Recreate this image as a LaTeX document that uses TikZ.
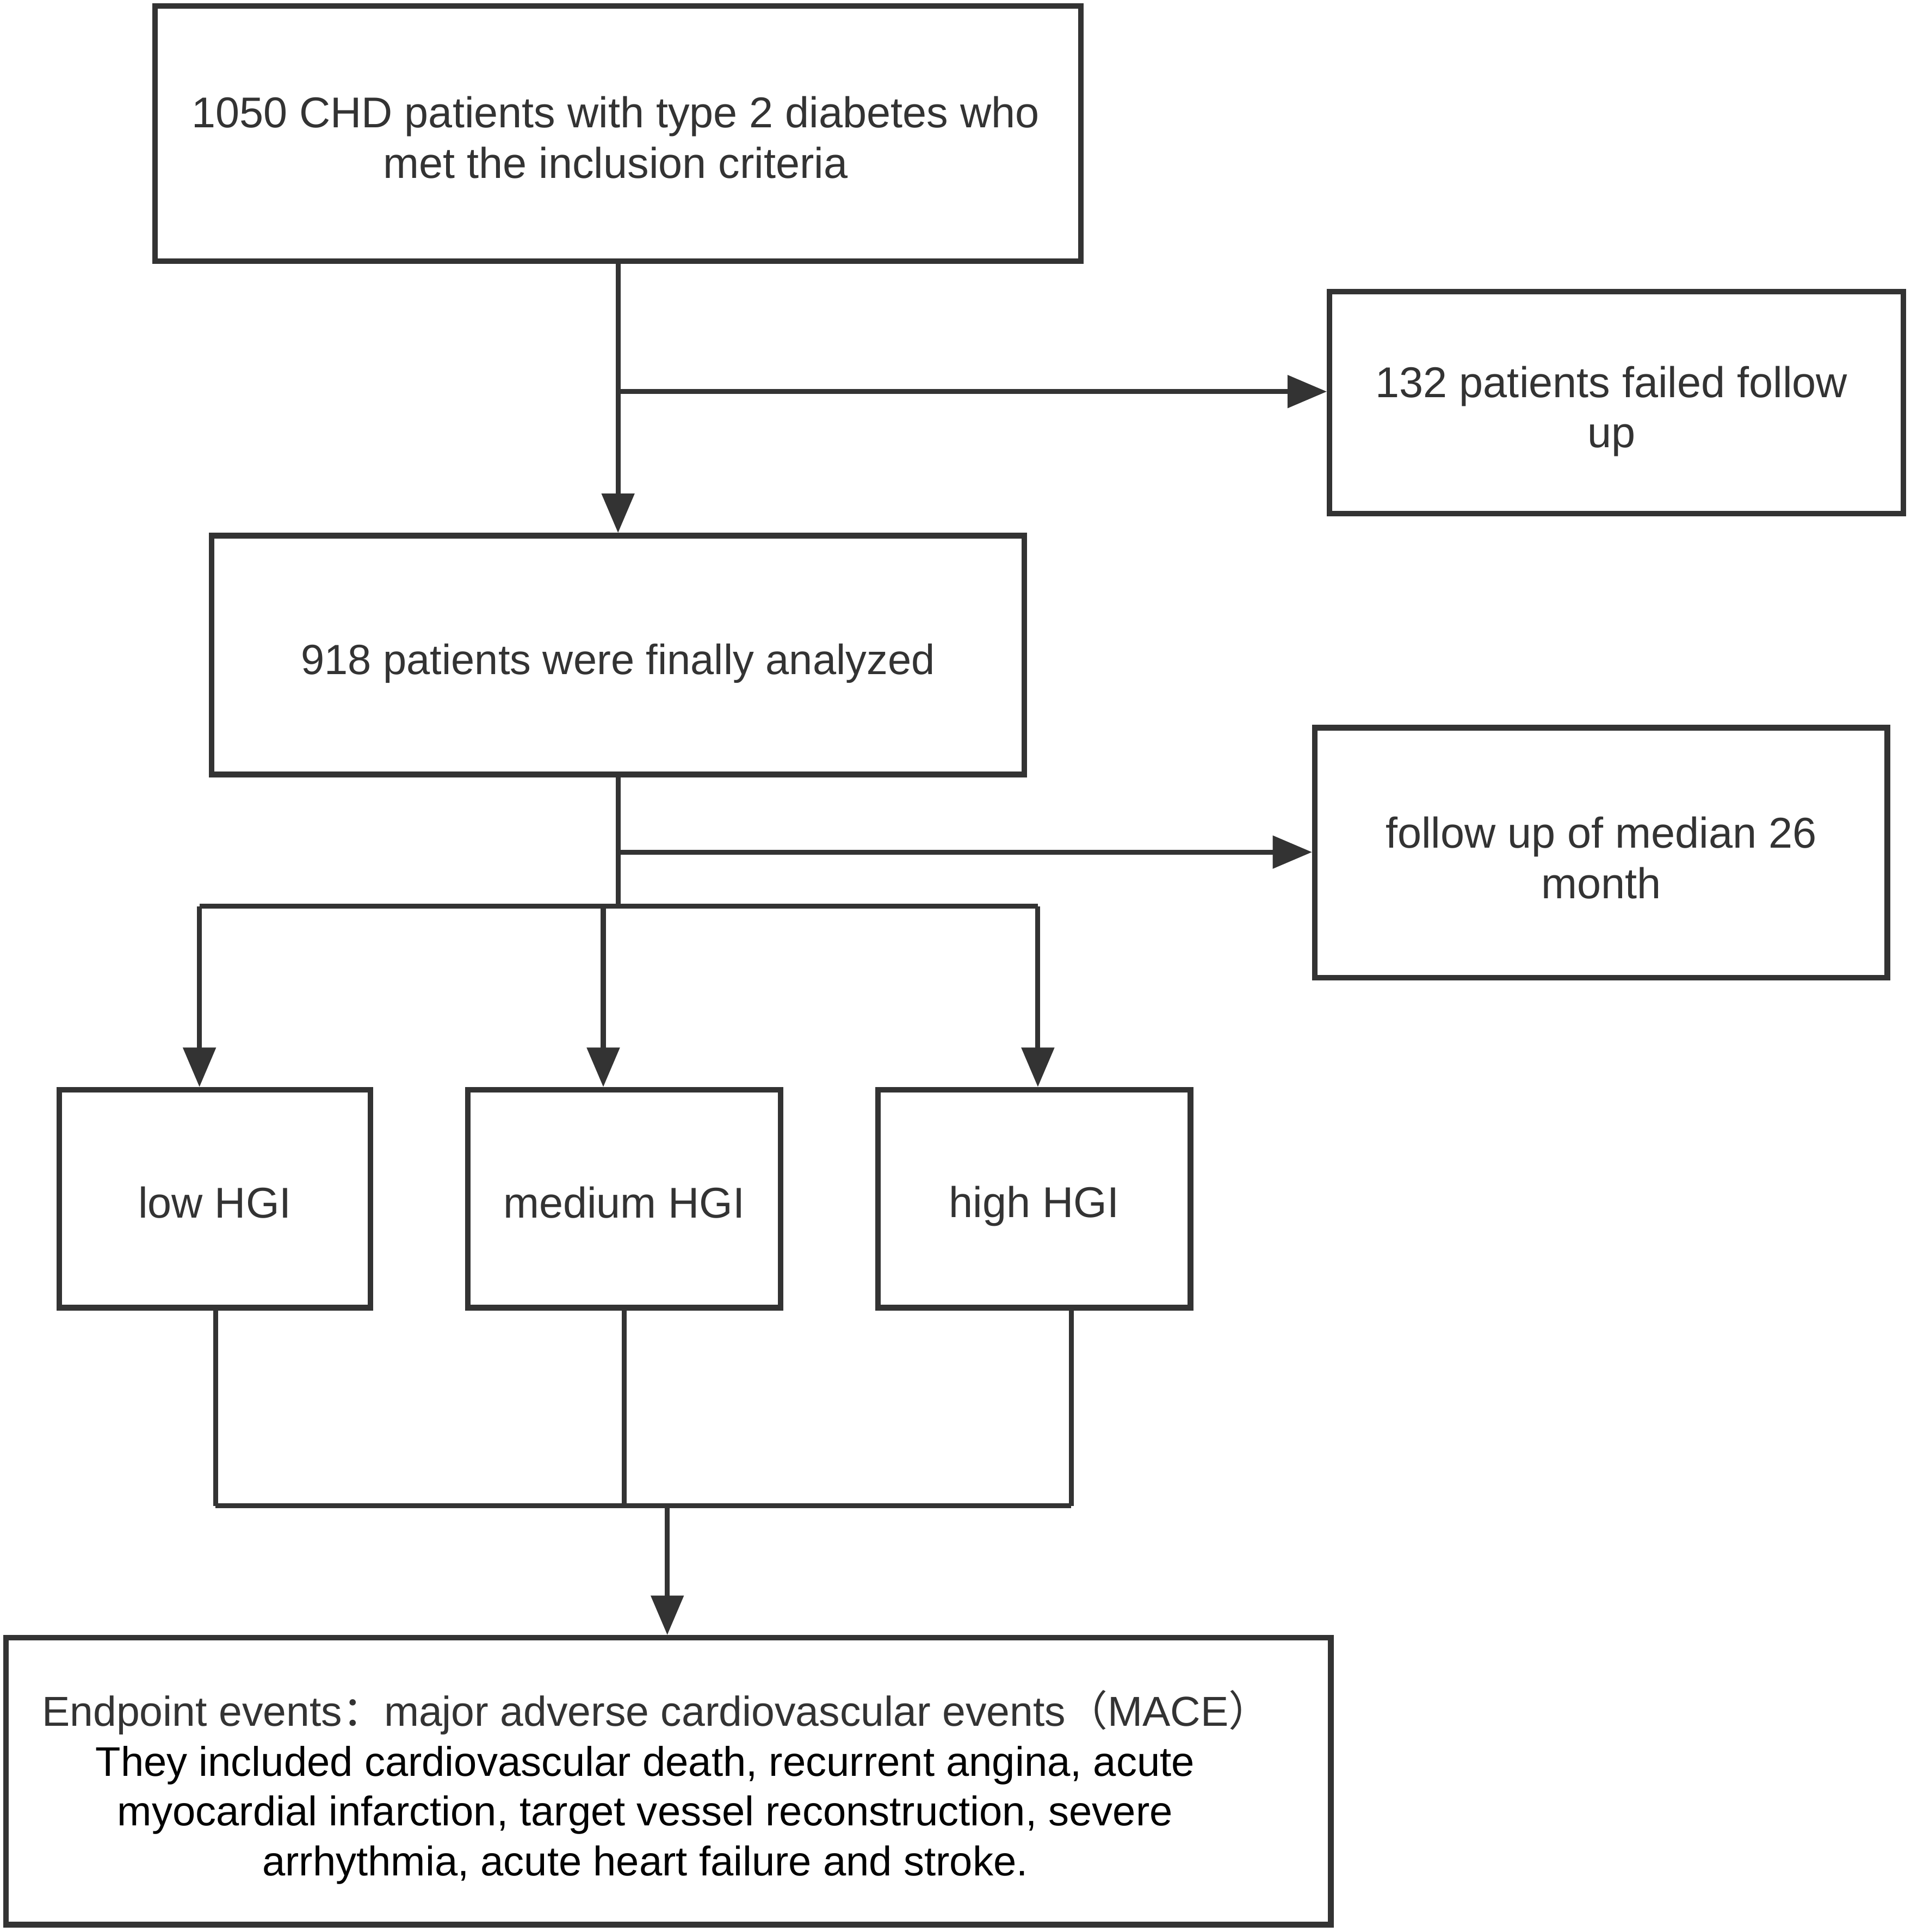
\documentclass[tikz,border=0pt]{standalone}
\usepackage{fontspec}
\setmainfont{Liberation Sans}
\newfontfamily\cjk{Noto Sans CJK SC}
\usetikzlibrary{arrows.meta}
\definecolor{ink}{HTML}{333333}
\begin{document}
\begin{tikzpicture}[x=1pt,y=-1pt,
  box/.style={draw=ink, line width=4.5pt, inner sep=0pt},
  lbl/.style={inner sep=0pt, text=ink, align=center, font=\fontsize{35}{41}\selectfont},
  txt/.style={inner sep=0pt, text=ink, align=center, font=\fontsize{33.6}{40.5}\selectfont},
  conn/.style={draw=ink, line width=4pt},
  arr/.style={conn, -{Triangle[length=32pt,width=26pt]}},
]
\useasboundingbox (0,0) rectangle (1552,1569);
\fill[white] (0,0) rectangle (1552,1569);

% boxes
\node[box, minimum width=752pt, minimum height=207pt] (b1) at (502,108.5) {};
\node[box, minimum width=466pt, minimum height=180pt] (b132) at (1313,327) {};
\node[box, minimum width=660pt, minimum height=194pt] (b918) at (502,532) {};
\node[box, minimum width=465pt, minimum height=203pt] (bfu) at (1300.5,692.5) {};
\node[box, minimum width=253pt, minimum height=177pt] (blow) at (174.5,973.5) {};
\node[box, minimum width=254pt, minimum height=177pt] (bmed) at (507,973.5) {};
\node[box, minimum width=254pt, minimum height=177pt] (bhigh) at (840,973.5) {};
\node[box, minimum width=1076pt, minimum height=233pt] (endp) at (543,1446.5) {};

% texts
\node[lbl] (b1t) at ([xshift=-2pt,yshift=-3pt]b1.center) {1050 CHD patients with type 2 diabetes who\\met the inclusion criteria};
\node[lbl] (b132t) at ([xshift=-4pt,yshift=-7pt]b132.center) {132 patients failed follow\\up};
\node[lbl, font=\fontsize{34.3}{41}\selectfont] (b918t) at ([yshift=-7pt]b918.center) {918 patients were finally analyzed};
\node[lbl] (bfut) at ([yshift=-4pt]bfu.center) {follow up of median 26\\month};
\node[lbl] (blowt) at ([yshift=-3pt]blow.center) {low HGI};
\node[lbl] (bmedt) at ([yshift=-3pt]bmed.center) {medium HGI};
\node[lbl] (bhight) at ([yshift=-6pt]bhigh.center) {high HGI};
\node[txt] (endtxt) at (524,1451.5) {\hspace*{18pt}{\fontsize{34}{40.5}\selectfont Endpoint events{\cjk ：}major adverse cardiovascular events{\cjk （}MACE{\cjk ）}}\\
\textcolor{black}{They included cardiovascular death, recurrent angina, acute}\\
\textcolor{black}{myocardial infarction, target vessel reconstruction, severe}\\
\textcolor{black}{arrhythmia, acute heart failure and stroke.}};

% junction coordinates
\coordinate (j1) at (502,318);
\coordinate (j2) at (500,692);
\coordinate (j3) at (502,736);
\coordinate (hl) at (162,736);
\coordinate (hm) at (490,736);
\coordinate (hr) at (843,736);
\coordinate (bl) at (175,1223);
\coordinate (bm) at (507,1223);
\coordinate (br) at (870,1223);
\coordinate (bc) at (542,1223);

% connectors
\draw[arr] (b1.south) -- (b918.north);
\draw[arr] (j1) -- (j1 -| b132.west);
\draw[conn] (b918.south) -- (j3);
\draw[arr] (j2) -- (j2 -| bfu.west);
\draw[conn] (hl) -- (hr);
\draw[arr] (hl) -- (hl |- blow.north);
\draw[arr] (hm) -- (hm |- bmed.north);
\draw[arr] (hr) -- (hr |- bhigh.north);
\draw[conn] (bl |- blow.south) -- (bl);
\draw[conn] (bm |- bmed.south) -- (bm);
\draw[conn] (br |- bhigh.south) -- (br);
\draw[conn] (bl) -- (br);
\draw[arr] (bc) -- (bc |- endp.north);
\end{tikzpicture}
\end{document}
